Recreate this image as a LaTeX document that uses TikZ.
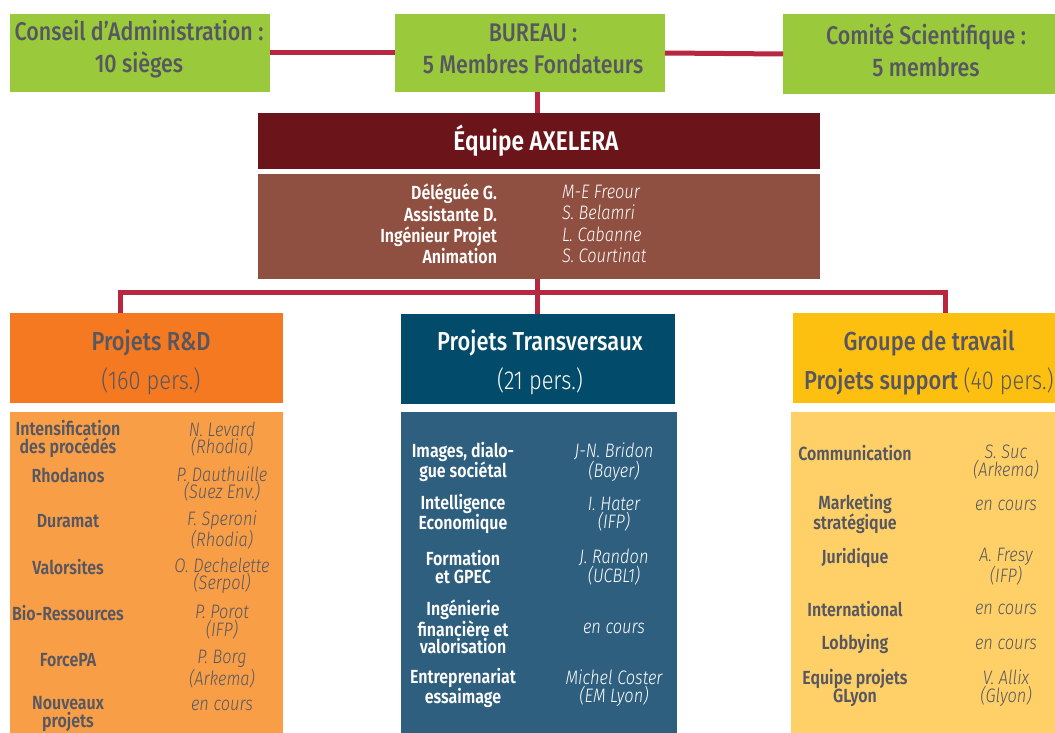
\documentclass[tikz,border=0pt]{standalone}
\usepackage{fontspec}
\setmainfont{Fira Sans}[FakeStretch=0.84]
\newfontfamily\fmed{Fira Sans Medium}[FakeStretch=0.84]
\newfontfamily\fsemi{Fira Sans SemiBold}[FakeStretch=0.84]
\newfontfamily\flit{Fira Sans Light Italic}[FakeStretch=0.84]
\newfontfamily\flight{Fira Sans Light}[FakeStretch=0.84]
\definecolor{lgreen}{HTML}{9ACA3C}
\definecolor{crim}{HTML}{B72840}
\definecolor{dred}{HTML}{6B1419}
\definecolor{brwn}{HTML}{8F4F41}
\definecolor{orng}{HTML}{F47920}
\definecolor{lorng}{HTML}{F89E47}
\definecolor{navy}{HTML}{024B6B}
\definecolor{steel}{HTML}{2F5F7F}
\definecolor{gold}{HTML}{FDC010}
\definecolor{lgold}{HTML}{FED067}
\definecolor{gtext}{HTML}{575761}
\begin{document}
\begin{tikzpicture}[x=1pt,y=-1pt,
  every node/.style={inner sep=0pt,outer sep=0pt},
  boxshape/.style={rectangle,draw=none,align=center},
  toptext/.style={align=center,text=gtext,font=\fmed\fontsize{25.5}{32}\selectfont},
  headtext/.style={align=center,font=\fmed\fontsize{26}{39}\selectfont},
  conn/.style={draw=crim,line width=5pt},
  lbl/.style={align=center,font=\fsemi\fontsize{19}{17.5}\selectfont},
  who/.style={align=center,font=\flit\fontsize{19.5}{17.5}\selectfont},
  olbl/.style={lbl,text=gtext},
  owho/.style={who,text=gtext},
  blbl/.style={lbl,text=white},
  bwho/.style={who,text=white}
]
\useasboundingbox (0,0) rectangle (1055,733);
\fill[white] (0,0) rectangle (1055,733);

% top row
\node[boxshape,fill=lgreen,minimum width=260,minimum height=78] (cons) at (140,53) {};
\node[boxshape,fill=lgreen,minimum width=270,minimum height=78] (bur) at (530,53) {};
\node[boxshape,fill=lgreen,minimum width=272,minimum height=80] (com) at (919,54) {};
\node[toptext] (consT) at (139,49) {Conseil d’Administration :\\10 sièges};
\node[toptext] (burT) at (533,49) {BUREAU :\\5 Membres Fondateurs};
\node[toptext] (comT) at (926,50) {Comité Scientifique :\\5 membres};
\coordinate (vx) at (537,0);
\coordinate (hl) at (120,292);
\coordinate (hr) at (945,292);

% Equipe
\node[boxshape,fill=dred,minimum width=562,minimum height=56] (eq) at (539,141) {};
\node[text=white,font=\fsemi\fontsize{27}{30}\selectfont] (eqT) at (536,141) {Équipe AXELERA};
\node[boxshape,fill=brwn,minimum width=562,minimum height=105] (br) at (539,226.5) {};
\node[anchor=east,align=right,text=white,font=\fsemi\fontsize{19}{21.3}\selectfont] (brl) at (497,224) {Déléguée G.\\Assistante D.\\Ingénieur Projet\\Animation};
\node[anchor=west,align=left,text=white,font=\flit\fontsize{19.5}{21.3}\selectfont] (brr) at (562,224) {M-E Freour\\S. Belamri\\L. Cabanne\\S. Courtinat};

% headers
\node[boxshape,fill=orng,minimum width=273,minimum height=90] (rd) at (146.5,358) {};
\node[boxshape,fill=navy,minimum width=274,minimum height=90] (tr) at (538,359) {};
\node[boxshape,fill=gold,minimum width=262,minimum height=90] (gt) at (924,358) {};
\node[headtext,text=gtext] (rdT) at (151,362) {Projets R\&D\\{\flight(160 pers.)}};
\node[headtext,text=white] (trT) at (540,362) {Projets Transversaux\\{\flight(21 pers.)}};
\node[headtext,text=gtext] (gtT) at (929,362) {Groupe de travail\\Projets support {\flight(40 pers.)}};

% content boxes
\node[boxshape,fill=lorng,minimum width=273,minimum height=321,anchor=north west] (rdc) at (10,412) {};
\node[boxshape,fill=steel,minimum width=276,minimum height=321,anchor=north west] (trc) at (401,412) {};
\node[boxshape,fill=lgold,minimum width=264,minimum height=321,anchor=north west] (gtc) at (791,412) {};

% connectors
\draw[conn] (cons.east) -- (bur.west);
\draw[conn] (bur.east) -- (com.west);
\draw[conn] (bur.south -| vx) -- (eq.north -| vx);
\draw[conn] (br.south -| vx) -- (tr.north -| vx);
\draw[conn] (rd.north -| hl) -- (hl) -- (hr) -- (gt.north -| hr);

% R&D items
\node[olbl] (o1) at (68,439) {Intensification\\des procédés};
\node[olbl] (o2) at (68,475) {Rhodanos};
\node[olbl] (o3) at (68,521) {Duramat};
\node[olbl] (o4) at (68,567) {Valorsites};
\node[olbl] (o5) at (68,613) {Bio-Ressources};
\node[olbl] (o6) at (68,660) {ForcePA};
\node[olbl] (o7) at (68,714) {Nouveaux\\projets};
\node[owho] (p1) at (222,439) {N. Levard\\(Rhodia)};
\node[owho] (p2) at (222,484) {P. Dauthuille\\(Suez Env.)};
\node[owho] (p3) at (222,530) {F. Speroni\\(Rhodia)};
\node[owho] (p4) at (222,576) {O. Dechelette\\(Serpol)};
\node[owho] (p5) at (222,622) {P. Porot\\(IFP)};
\node[owho] (p6) at (222,669) {P. Borg\\(Arkema)};
\node[owho] (p7) at (222,705) {en cours};

% Transversaux items
\node[blbl] (t1) at (463,462) {Images, dialo-\\gue sociétal};
\node[blbl] (t2) at (463,514) {Intelligence\\Economique};
\node[blbl] (t3) at (463,567) {Formation\\et GPEC};
\node[blbl] (t4) at (463,627) {Ingénierie\\financière et\\valorisation};
\node[blbl] (t5) at (463,688) {Entreprenariat\\essaimage};
\node[bwho] (q1) at (614,462) {J-N. Bridon\\(Bayer)};
\node[bwho] (q2) at (614,514) {I. Hater\\(IFP)};
\node[bwho] (q3) at (614,567) {J. Randon\\(UCBL1)};
\node[bwho] (q4) at (614,628) {en cours};
\node[bwho] (q5) at (614,688) {Michel Coster\\(EM Lyon)};

% Groupe de travail items
\node[olbl] (g1) at (855,453) {Communication};
\node[olbl] (g2) at (855,514) {Marketing\\stratégique};
\node[olbl] (g3) at (855,558) {Juridique};
\node[olbl] (g4) at (855,609) {International};
\node[olbl] (g5) at (855,644) {Lobbying};
\node[olbl] (g6) at (855,688) {Equipe projets\\GLyon};
\node[owho] (h1) at (1006,462) {S. Suc\\(Arkema)};
\node[owho] (h2) at (1006,505) {en cours};
\node[owho] (h3) at (1006,567) {A. Fresy\\(IFP)};
\node[owho] (h4) at (1006,609) {en cours};
\node[owho] (h5) at (1006,644) {en cours};
\node[owho] (h6) at (1006,688) {V. Allix\\(Glyon)};
\end{tikzpicture}
\end{document}
